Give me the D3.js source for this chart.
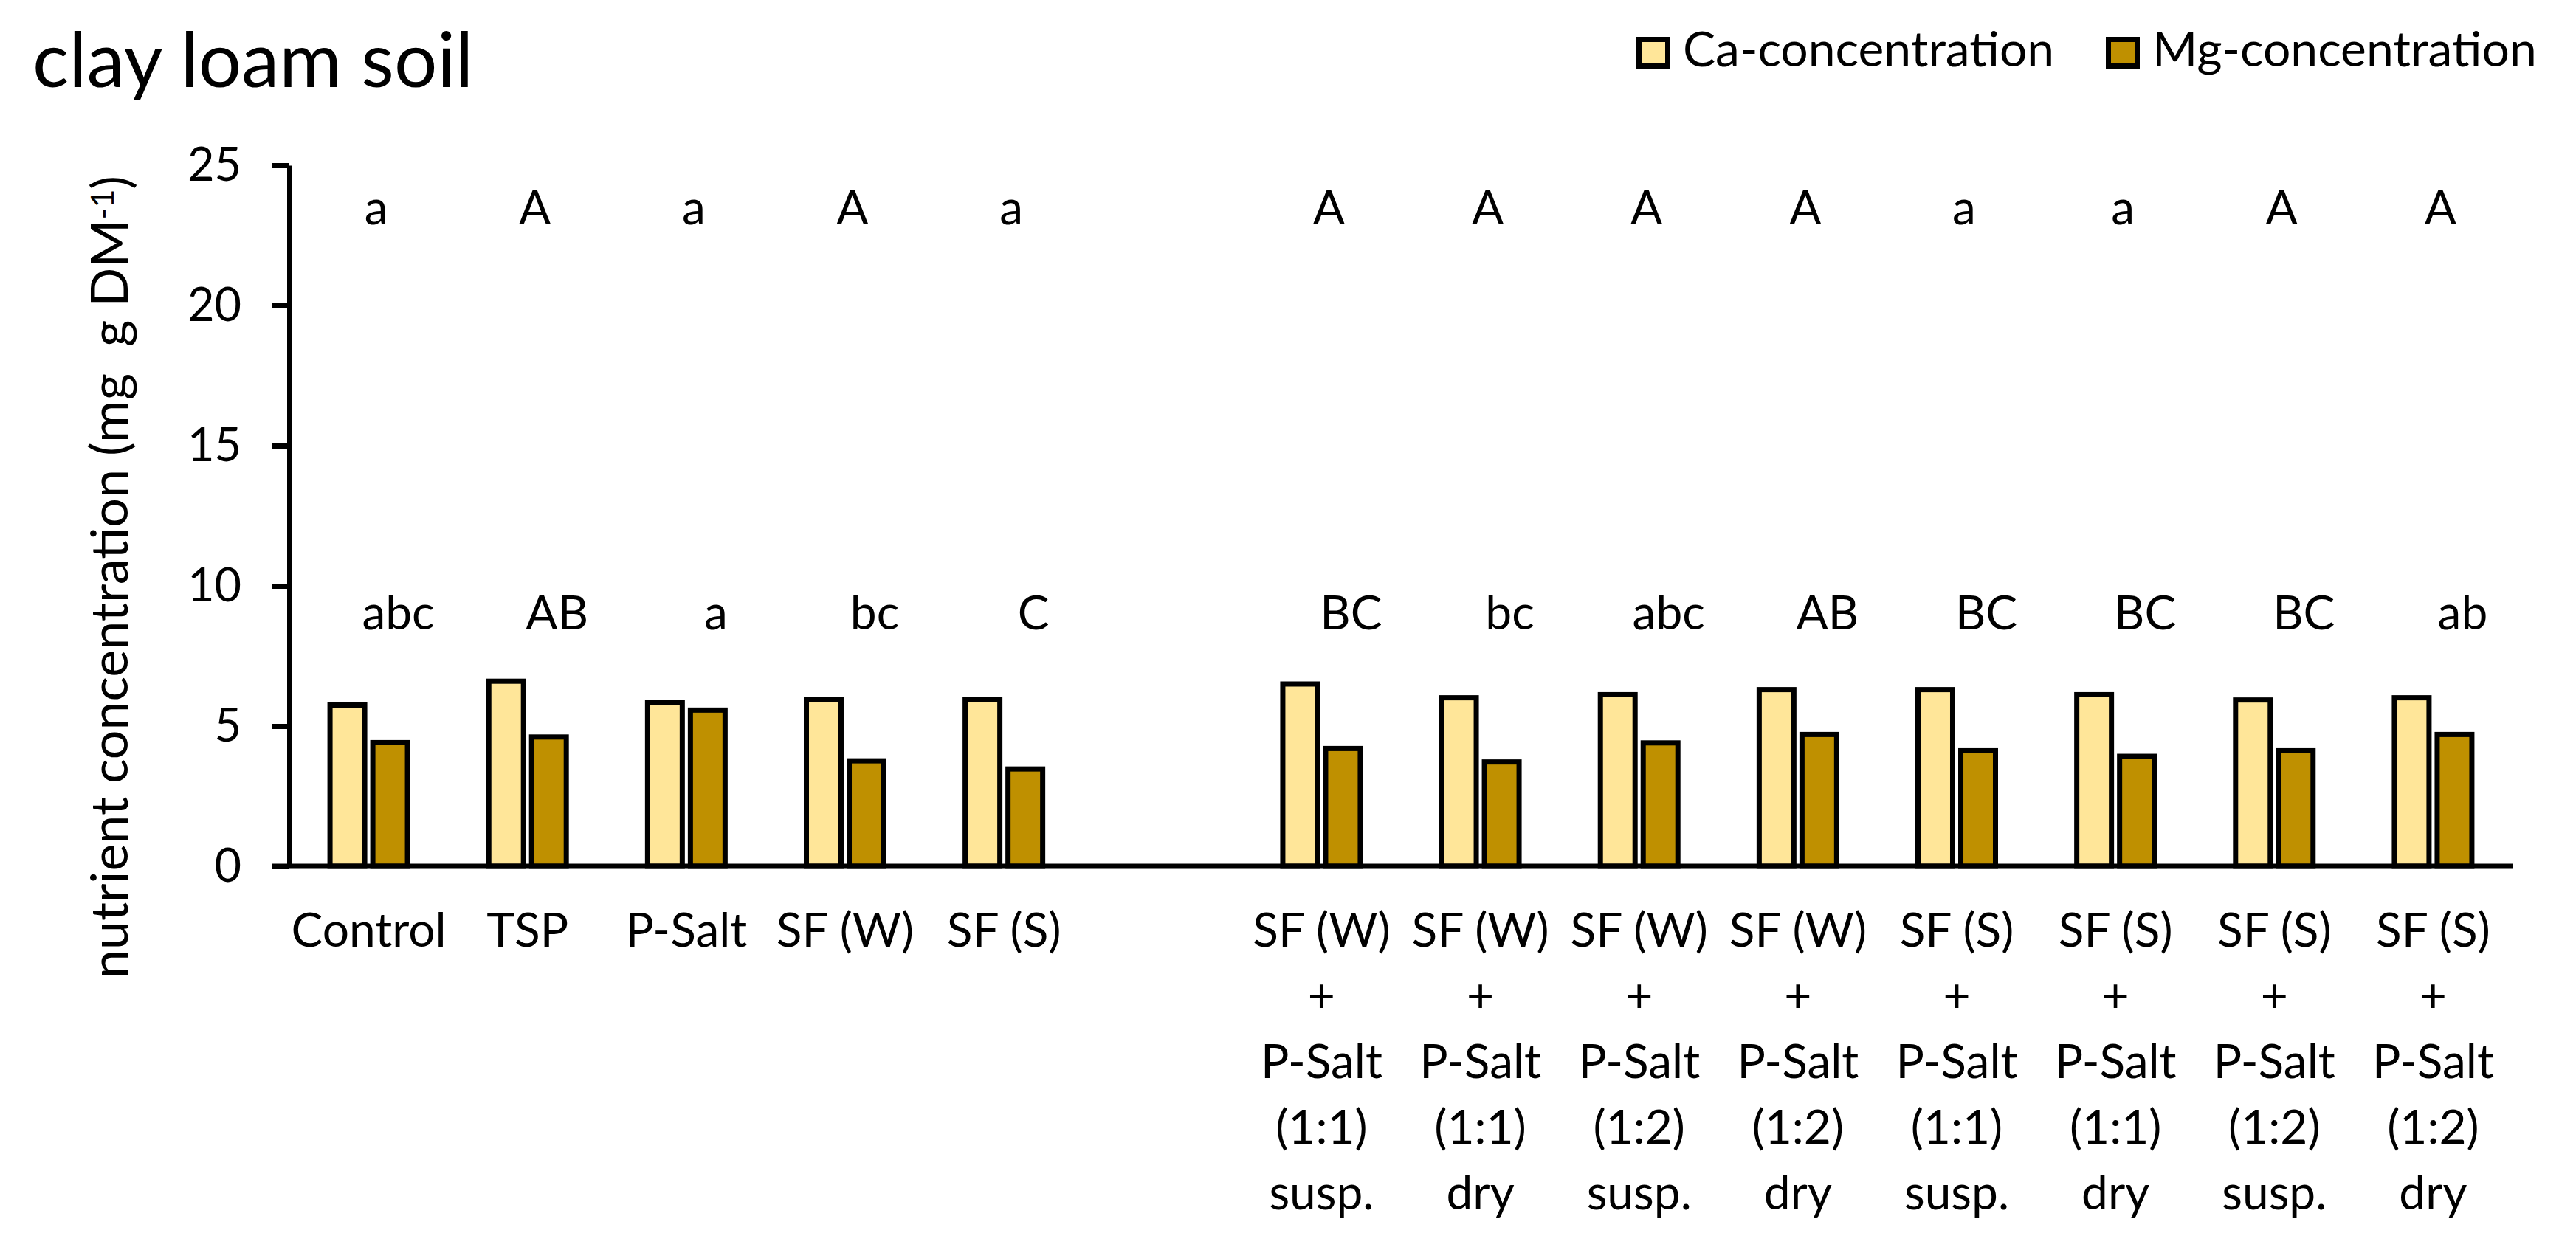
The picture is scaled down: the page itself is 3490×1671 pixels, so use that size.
<!DOCTYPE html>
<html>
<head>
<meta charset="utf-8">
<script src="https://cdn.jsdelivr.net/npm/d3@7"></script>
<style>
    html, body { margin: 0; padding: 0; background: #ffffff; }
    svg { display: block; }
</style>
</head>
<body>
<div id="chart"></div>
<script>
// Chart data: Ca / Mg concentration in clay loam soil

const categories = [
    'Control', 'TSP', 'P-Salt', 'SF (W)', 'SF (S)', 'gap',
    'W-11-susp', 'W-11-dry', 'W-12-susp', 'W-12-dry',
    'S-11-susp', 'S-11-dry', 'S-12-susp', 'S-12-dry'
];

const categoryLabels = [
    ['Control'], ['TSP'], ['P-Salt'], ['SF (W)'], ['SF (S)'], [],
    ['SF (W)', '+', 'P-Salt', '(1:1)', 'susp.'],
    ['SF (W)', '+', 'P-Salt', '(1:1)', 'dry'],
    ['SF (W)', '+', 'P-Salt', '(1:2)', 'susp.'],
    ['SF (W)', '+', 'P-Salt', '(1:2)', 'dry'],
    ['SF (S)', '+', 'P-Salt', '(1:1)', 'susp.'],
    ['SF (S)', '+', 'P-Salt', '(1:1)', 'dry'],
    ['SF (S)', '+', 'P-Salt', '(1:2)', 'susp.'],
    ['SF (S)', '+', 'P-Salt', '(1:2)', 'dry']
];

const caValues = [5.75, 6.6, 5.84, 5.95, 5.95, null, 6.5, 6.01, 6.12, 6.3, 6.3, 6.12, 5.93, 6.01];
const mgValues = [4.41, 4.61, 5.57, 3.76, 3.47, null, 4.2, 3.72, 4.4, 4.7, 4.12, 3.92, 4.12, 4.7];

const caLetters = ['a', 'A', 'a', 'A', 'a', '', 'A', 'A', 'A', 'A', 'a', 'a', 'A', 'A'];
const mgLetters = ['abc', 'AB', 'a', 'bc', 'C', '', 'BC', 'bc', 'abc', 'AB', 'BC', 'BC', 'BC', 'ab'];

const seriesNames = ['Ca-concentration', 'Mg-concentration'];
const yTicks = [0, 5, 10, 15, 20, 25];

const COLORS = { ca: '#FFE699', mg: '#BF9000', ink: '#000000' };
const FONT = 'Lato, "Open Sans", sans-serif';

/**
 * Render grouped bar chart
 * @param {string} containerId - Container element ID
 */
function renderNutrientChart(containerId) {
    const width = 3490;
    const height = 1671;

    const svg = d3.select(`#${containerId}`)
        .append('svg')
        .attr('width', width)
        .attr('height', height)
        .style('font-family', FONT);

    svg.append('rect')
        .attr('width', width)
        .attr('height', height)
        .attr('fill', '#ffffff');

    // Scales
    const xScale = d3.scaleBand()
        .domain(categories)
        .range([392, 3404])
        .paddingInner(0.512)
        .paddingOuter(0.256);

    const xSub = d3.scaleBand()
        .domain(['ca', 'mg'])
        .range([0, xScale.bandwidth()])
        .paddingInner(0.19);

    const yScale = d3.scaleLinear()
        .domain([0, 25])
        .range([1174, 224]);

    const center = c => xScale(c) + xScale.bandwidth() / 2;

    // Title
    svg.append('text')
        .attr('x', 44)
        .attr('y', 118)
        .style('font-size', '103px')
        .attr('fill', COLORS.ink)
        .text('clay loam soil');

    // Y axis
    const yAxis = svg.append('g')
        .attr('transform', 'translate(392, 0)')
        .call(d3.axisLeft(yScale)
            .tickValues(yTicks)
            .tickSize(23)
            .tickSizeOuter(0)
            .tickPadding(42)
        );

    yAxis.select('.domain')
        .attr('stroke', COLORS.ink)
        .attr('stroke-width', 7);

    yAxis.selectAll('.tick line')
        .attr('stroke', COLORS.ink)
        .attr('stroke-width', 7);

    yAxis.selectAll('.tick text')
        .attr('fill', COLORS.ink)
        .style('font-family', FONT)
        .style('font-size', '63px');

    // Y axis label
    const yLabel = svg.append('text')
        .attr('transform', 'translate(173, 782) rotate(-90)')
        .attr('text-anchor', 'middle')
        .style('font-size', '70px')
        .style('white-space', 'pre')
        .attr('fill', COLORS.ink);

    yLabel.append('tspan').text('nutrient concentration (mg  g DM');
    yLabel.append('tspan')
        .attr('dy', '-0.45em')
        .style('font-size', '43px')
        .text('-1');
    yLabel.append('tspan')
        .attr('dy', '0.3em')
        .text(')');

    // Bars
    const rows = categories.map((c, i) => ({
        category: c,
        ca: caValues[i],
        mg: mgValues[i]
    })).filter(d => d.ca !== null);

    const groups = svg.append('g')
        .selectAll('g')
        .data(rows)
        .enter()
        .append('g')
        .attr('transform', d => `translate(${xScale(d.category)}, 0)`);

    groups.selectAll('rect')
        .data(d => [
            { key: 'ca', value: d.ca },
            { key: 'mg', value: d.mg }
        ])
        .enter()
        .append('rect')
        .attr('x', d => xSub(d.key))
        .attr('y', d => yScale(d.value))
        .attr('width', xSub.bandwidth())
        .attr('height', d => yScale(0) - yScale(d.value))
        .attr('fill', d => COLORS[d.key])
        .attr('stroke', COLORS.ink)
        .attr('stroke-width', 7);

    // X axis line (no ticks)
    svg.append('line')
        .attr('x1', 369)
        .attr('x2', 3404)
        .attr('y1', yScale(0))
        .attr('y2', yScale(0))
        .attr('stroke', COLORS.ink)
        .attr('stroke-width', 7);

    // Category labels
    const labels = svg.append('g')
        .selectAll('text')
        .data(categories.map((c, i) => ({ category: c, lines: categoryLabels[i] })))
        .enter()
        .append('text')
        .attr('text-anchor', 'middle')
        .style('font-size', '64px')
        .attr('fill', COLORS.ink);

    labels.selectAll('tspan')
        .data(d => d.lines.map(line => ({ line, x: center(d.category) })))
        .enter()
        .append('tspan')
        .attr('x', d => d.x)
        .attr('y', (d, i) => 1283 + i * 89)
        .text(d => d.line);

    // Significance letters
    svg.append('g')
        .selectAll('text')
        .data(categories.map((c, i) => ({ category: c, letter: caLetters[i] })))
        .enter()
        .append('text')
        .attr('x', d => center(d.category) + 10)
        .attr('y', yScale(22.9))
        .attr('text-anchor', 'middle')
        .style('font-size', '64px')
        .attr('fill', COLORS.ink)
        .text(d => d.letter);

    svg.append('g')
        .selectAll('text')
        .data(categories.map((c, i) => ({ category: c, letter: mgLetters[i] })))
        .enter()
        .append('text')
        .attr('x', d => center(d.category) + 40)
        .attr('y', yScale(8.45))
        .attr('text-anchor', 'middle')
        .style('font-size', '64px')
        .attr('fill', COLORS.ink)
        .text(d => d.letter);

    // Legend
    const legendX = [2217, 2853];
    const legend = svg.append('g')
        .attr('class', 'legend');

    seriesNames.forEach((name, i) => {
        legend.append('rect')
            .attr('x', legendX[i] + 3.5)
            .attr('y', 53.5)
            .attr('width', 39)
            .attr('height', 36)
            .attr('fill', i === 0 ? COLORS.ca : COLORS.mg)
            .attr('stroke', COLORS.ink)
            .attr('stroke-width', 7);

        legend.append('text')
            .attr('x', legendX[i] + 63)
            .attr('y', 90)
            .style('font-size', '66px')
            .attr('fill', COLORS.ink)
            .text(name);
    });
}

renderNutrientChart('chart');
</script>
</body>
</html>
